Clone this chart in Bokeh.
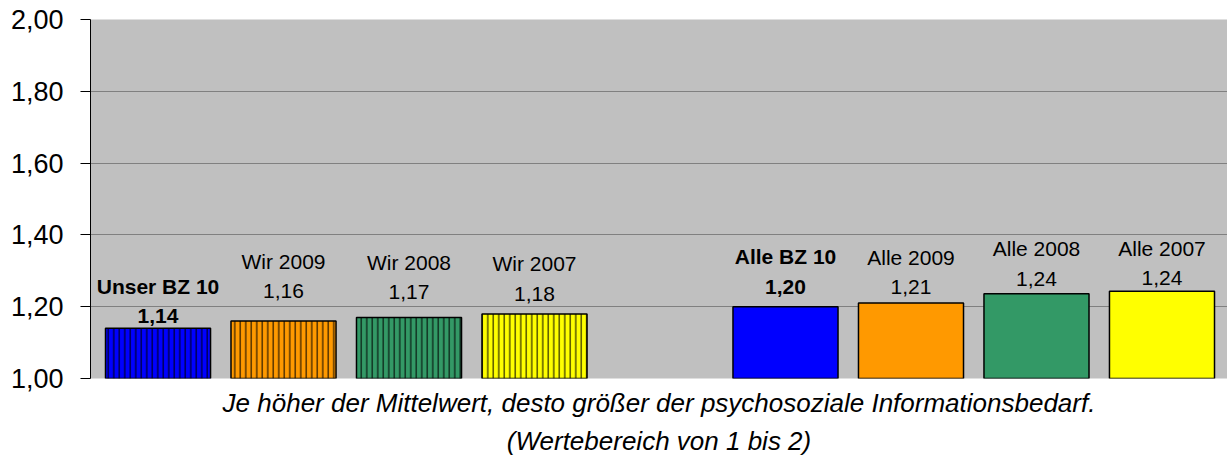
from bokeh.plotting import figure
from bokeh.models import ColumnDataSource, Range1d, FixedTicker, Title
from bokeh.core.properties import value
from bokeh.embed import file_html
from bokeh.resources import INLINE

# ---- data ----
slots = ["Unser BZ 10", "Wir 2009", "Wir 2008", "Wir 2007", "",
         "Alle BZ 10", "Alle 2009", "Alle 2008", "Alle 2007"]
categories = ["Unser BZ 10", "Wir 2009", "Wir 2008", "Wir 2007",
              "Alle BZ 10", "Alle 2009", "Alle 2008", "Alle 2007"]
values = [1.14, 1.16, 1.17, 1.18, 1.20, 1.21, 1.236, 1.243]
value_labels = ["1,14", "1,16", "1,17", "1,18", "1,20", "1,21", "1,24", "1,24"]
y_ticks = [1.0, 1.2, 1.4, 1.6, 1.8, 2.0]
y_tick_labels = ["1,00", "1,20", "1,40", "1,60", "1,80", "2,00"]
footnote = ["Je höher der Mittelwert, desto größer der psychosoziale Informationsbedarf.",
            "(Wertebereich von 1 bis 2)"]

# ---- styling ----
colors = ["#0000FF", "#FF9900", "#339966", "#FFFF00",
          "#0000FF", "#FF9900", "#339966", "#FFFF00"]
hatches = ["|", "|", "|", "|", " ", " ", " ", " "]
weights = ["bold", "normal", "normal", "normal", "bold", "normal", "normal", "normal"]
value_lift = [12, 30, 25, 20, 20, 16, 15, 13]   # px above bar top (label centre)
name_gap = 30

xs = [slots.index(c) + 1 for c in categories]
src = ColumnDataSource(dict(
    x=xs, top=values, color=colors, hatch=hatches, weight=weights,
    name=categories, vlabel=value_labels,
    voff=[-v for v in value_lift], noff=[-(v + name_gap) for v in value_lift],
))

FONT = "Liberation Sans"

p = figure(width=1227, height=460, output_backend="svg", toolbar_location=None,
           x_range=Range1d(0.462, 9.522), y_range=Range1d(1.0, 2.0),
           min_border_left=90, min_border_right=0, min_border_top=19, min_border_bottom=82)
p.background_fill_color = "#C0C0C0"
p.border_fill_color = "white"
p.outline_line_color = None

p.xaxis.visible = False
p.xgrid.visible = False
p.ygrid.grid_line_color = "#808080"
p.ygrid.grid_line_width = 1

ax = p.yaxis[0]
ax.ticker = FixedTicker(ticks=y_ticks)
ax.major_label_overrides = {t: l for t, l in zip(y_ticks, y_tick_labels)}
ax.minor_tick_line_color = None
ax.major_tick_out = 10
ax.major_tick_in = 0
ax.major_tick_line_color = "black"
ax.axis_line_color = "black"
ax.major_label_standoff = 17
ax.major_label_text_font = FONT
ax.major_label_text_font_size = "27px"
ax.major_label_text_color = "black"

p.vbar(x="x", top="top", bottom=1.0, width=0.837, source=src,
       fill_color="color", line_color="black", line_width=1.5,
       hatch_pattern="hatch", hatch_color="black", hatch_scale=5.5, hatch_weight=1)

p.text(x="x", y="top", text="vlabel", source=src, y_offset="voff",
       text_align="center", text_baseline="middle", text_font=value(FONT),
       text_font_size="21px", text_font_style="weight", text_color="black")
p.text(x="x", y="top", text="name", source=src, y_offset="noff",
       text_align="center", text_baseline="middle", text_font=value(FONT),
       text_font_size="21px", text_font_style="weight", text_color="black")

standoffs = [15, -3]
for line, so in zip(footnote, standoffs):
    p.add_layout(Title(text=line, align="center", text_font=FONT,
                       text_font_size="26px", text_font_style="italic",
                       text_color="black", standoff=so, offset=-6), "below")

open("out.html", "w").write(file_html(p, INLINE))
